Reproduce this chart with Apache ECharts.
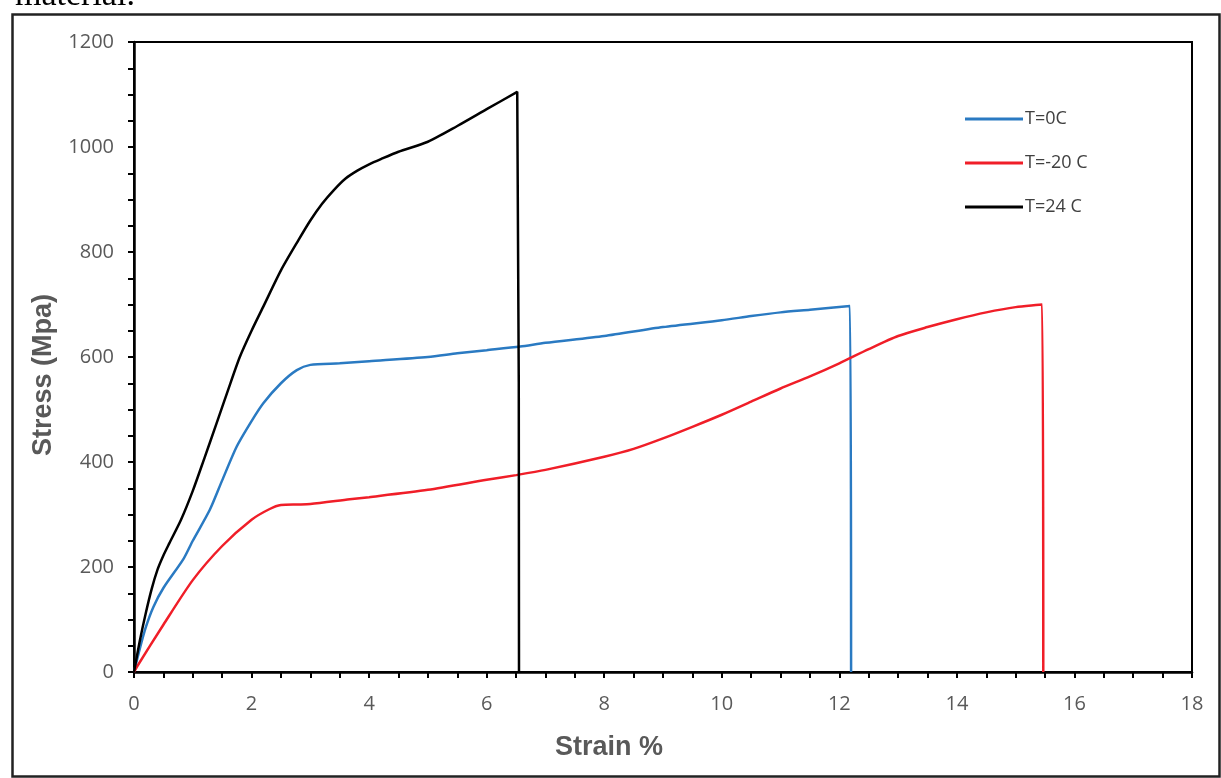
<!DOCTYPE html>
<html>
<head>
<meta charset="utf-8">
<script src="https://cdn.jsdelivr.net/npm/echarts@6/dist/echarts.min.js"></script>
<style>
html,body{margin:0;padding:0;background:#fff;}
#main{width:1221px;height:778px;}
</style>
</head>
<body>
<div id="main"></div>
<script>
const seriesNames = ['T=0C', 'T=-20 C', 'T=24 C'];
const seriesColors = ['#2A7AC2', '#F01E28', '#000000'];

const strainT0 = [0, 0.1, 0.2, 0.33, 0.5, 0.84, 1.0, 1.29, 1.5, 1.75, 2.0, 2.2, 2.5, 2.77, 3.0, 3.5, 4.0, 5.0, 5.5, 6.0, 6.57, 7.0, 8.0, 9.0, 10.0, 10.5, 11.0, 11.5, 12.18, 12.2];
const stressT0 = [0, 45, 85, 124, 160, 215, 250, 309, 365, 430, 478, 512, 550, 575, 585, 588, 592, 600, 607, 613, 620, 627, 640, 657, 670, 678, 685, 690, 697, 0];

const strainTm20 = [0, 0.05, 0.5, 1.0, 1.5, 2.0, 2.3, 2.5, 2.8, 3.0, 3.67, 4.0, 5.0, 6.0, 6.5, 7.0, 8.0, 8.5, 9.0, 9.5, 10.0, 10.5, 11.0, 11.5, 12.0, 12.5, 13.0, 13.5, 14.0, 14.5, 15.0, 15.45, 15.47];
const stressTm20 = [0, 10, 90, 175, 240, 290, 310, 318, 319, 320, 329, 333, 347, 366, 375, 385, 410, 425, 445, 467, 490, 515, 540, 563, 588, 615, 640, 657, 672, 685, 695, 700, 0];

const strainT24 = [0, 0.1, 0.2, 0.3, 0.4, 0.5, 0.6, 0.8, 1.0, 1.2, 1.4, 1.6, 1.8, 2.0, 2.2, 2.5, 2.8, 3.0, 3.2, 3.4, 3.6, 3.8, 4.0, 4.2, 4.5, 5.0, 5.5, 6.0, 6.52, 6.55];
const stressT24 = [0, 60, 112, 158, 195, 222, 245, 290, 345, 408, 472, 537, 600, 650, 696, 765, 823, 860, 892, 918, 940, 955, 967, 977, 991, 1010, 1040, 1072, 1105, 0];

const xTicks = [0, 2, 4, 6, 8, 10, 12, 14, 16, 18];
const yTicks = [0, 200, 400, 600, 800, 1000, 1200];

function zip(xs, ys) { return xs.map((x, i) => [x, ys[i]]); }

const chart = echarts.init(document.getElementById('main'), null, {renderer: 'canvas'});
const labelFont = {color: '#595959', fontSize: 20, fontFamily: 'Open Sans, Liberation Sans, sans-serif'};
const nameFont = {color: '#595959', fontSize: 27, fontWeight: 'bold', fontFamily: 'Liberation Sans, Arial, sans-serif'};

chart.setOption({
  animation: false,
  backgroundColor: '#fff',
  grid: {left: 134, right: 29, top: 42, bottom: 106, show: true, borderColor: '#000', borderWidth: 2, backgroundColor: 'transparent'},
  legend: {
    orient: 'vertical',
    left: 960, top: 105,
    itemWidth: 58, itemHeight: 14, itemGap: 26,
    icon: 'path://M0,5.5 L58,5.5 L58,8.5 L0,8.5 Z',
    textStyle: {color: '#404040', fontSize: 18, fontFamily: 'Open Sans, Liberation Sans, sans-serif', padding: [0,0,0,-3]},
    data: seriesNames
  },
  xAxis: {
    type: 'value', min: xTicks[0], max: xTicks[xTicks.length - 1], interval: 2,
    name: 'Strain %', nameLocation: 'middle', nameGap: 62,
    nameTextStyle: Object.assign({padding: [0, 108, 0, 0]}, nameFont),
    axisLine: {show: true, lineStyle: {color: '#000', width: 2.5}},
    axisTick: {show: true, inside: false, length: 6, lineStyle: {color: '#000', width: 2}},
    minorTick: {show: true, splitNumber: 4, length: 6, lineStyle: {color: '#000', width: 2}},
    axisLabel: Object.assign({margin: 22, formatter: v => String(v)}, labelFont),
    splitLine: {show: false}
  },
  yAxis: {
    type: 'value', min: yTicks[0], max: yTicks[yTicks.length - 1], interval: 200,
    name: 'Stress (Mpa)', nameLocation: 'middle', nameGap: 75,
    nameTextStyle: Object.assign({padding: [0, 36, 0, 0]}, nameFont),
    axisLine: {show: true, lineStyle: {color: '#000', width: 2.5}},
    axisTick: {show: true, inside: false, length: 6, lineStyle: {color: '#000', width: 2}},
    minorTick: {show: true, splitNumber: 4, length: 6, lineStyle: {color: '#000', width: 2}},
    axisLabel: Object.assign({margin: 20, formatter: v => String(v)}, labelFont),
    splitLine: {show: false}
  },
  series: [
    {name: seriesNames[0], type: 'line', data: zip(strainT0, stressT0), smooth: 0.25, showSymbol: false, lineStyle: {color: seriesColors[0], width: 2.5}, itemStyle: {color: seriesColors[0]}},
    {name: seriesNames[1], type: 'line', data: zip(strainTm20, stressTm20), smooth: 0.25, showSymbol: false, lineStyle: {color: seriesColors[1], width: 2.5}, itemStyle: {color: seriesColors[1]}},
    {name: seriesNames[2], type: 'line', data: zip(strainT24, stressT24), smooth: 0.25, showSymbol: false, lineStyle: {color: seriesColors[2], width: 2.5}, itemStyle: {color: seriesColors[2]}}
  ],
  graphic: [
    {type: 'rect', left: 10, top: 12, shape: {width: 1207, height: 762}, style: {fill: 'none', stroke: '#222', lineWidth: 2.5}, silent: true},
    {type: 'text', x: 15, y: -3.5, style: {text: 'material.', fill: '#000', font: '34px "Liberation Serif", serif', verticalAlign: 'middle'}, silent: true}
  ]
});
</script>
</body>
</html>
